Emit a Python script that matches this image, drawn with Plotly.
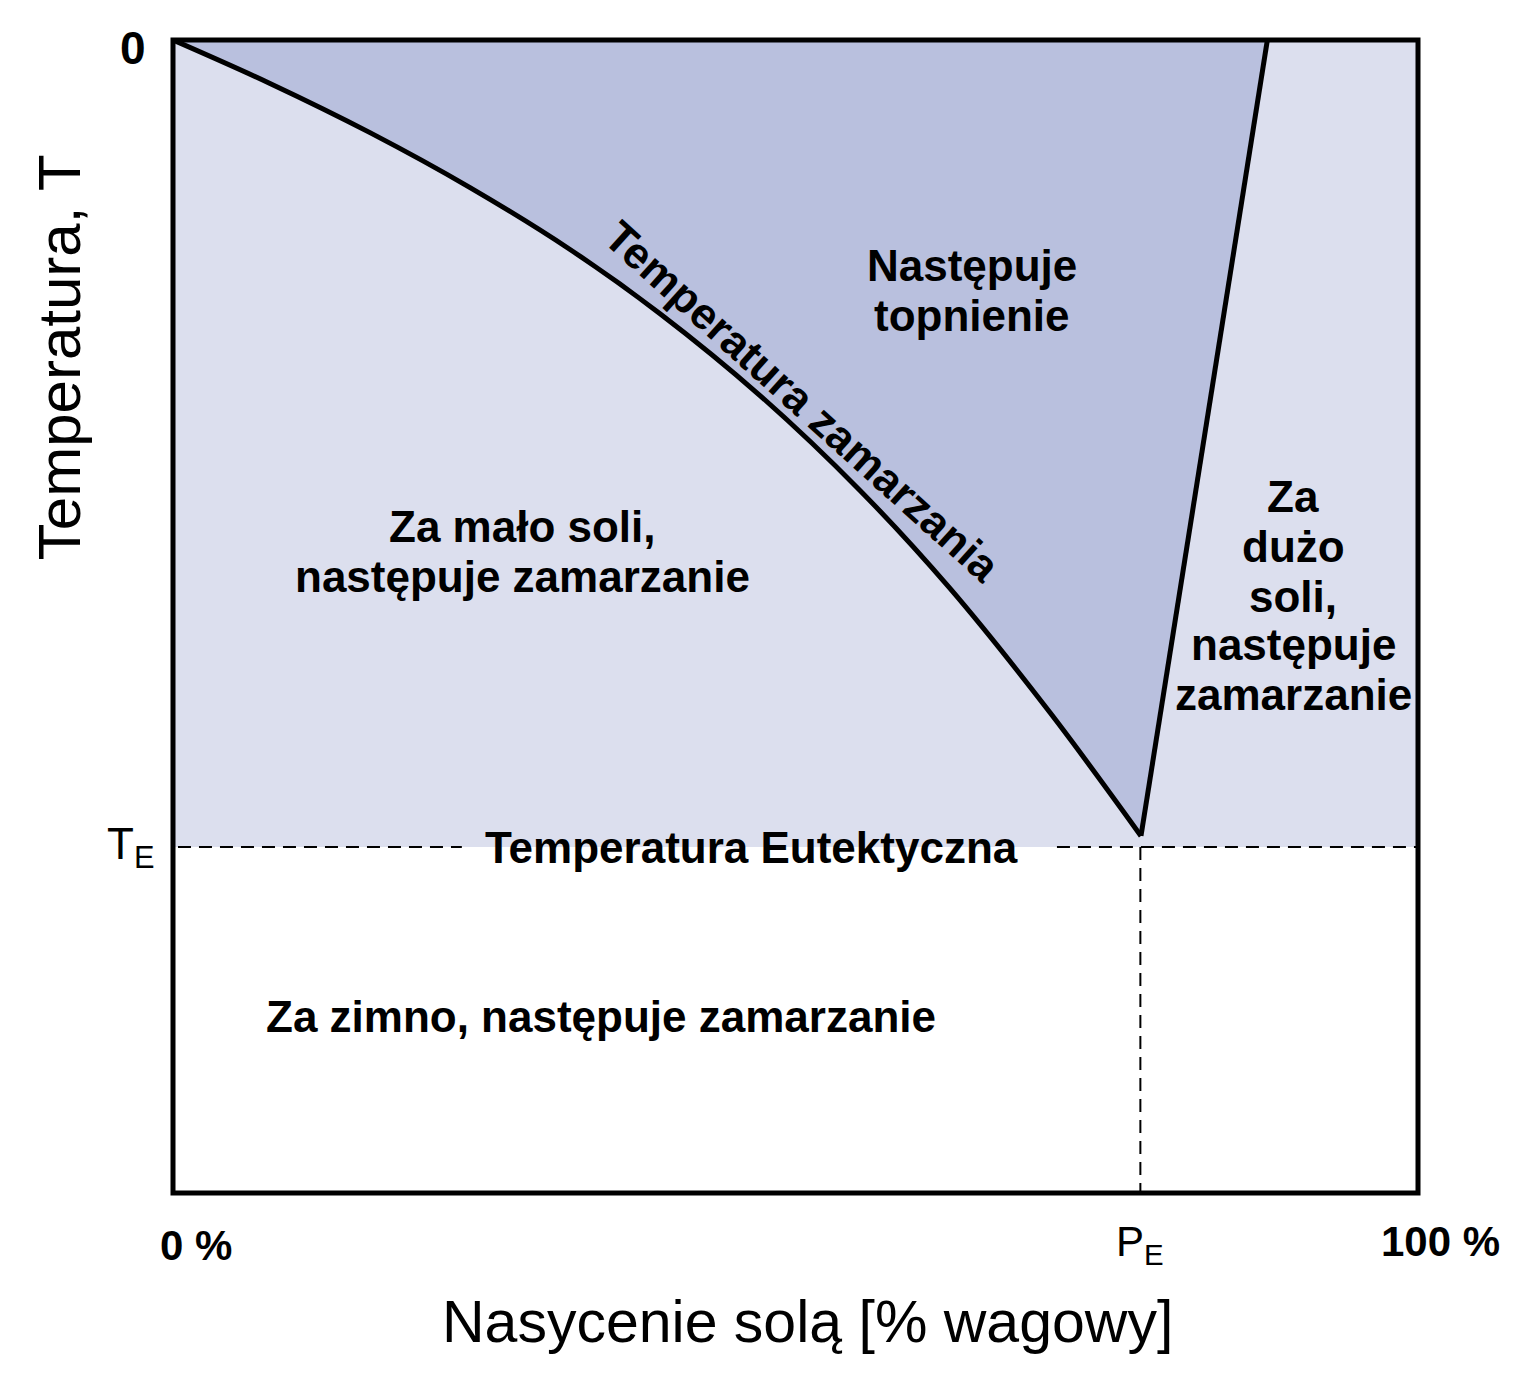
import plotly.graph_objects as go

# ---- data (x: salt saturation %, y: temperature, arbitrary units) ----
T_E = -21.0                # eutectic temperature
P_E = 77.7                 # eutectic composition [%]
T_MIN = -30.0
curve_x = [0.0, 7.79, 15.82, 23.86, 31.89, 39.12, 47.15, 55.18, 62.41, 70.44, 77.75]
curve_T = [0.0, -1.13, -2.41, -3.84, -5.45, -7.12, -9.25, -11.72, -14.27, -17.50, -20.71]
salt_line_x = [77.75, 87.9]
salt_line_T = [-20.71, 0.0]
te_gap = [23.2, 71.0]      # where the eutectic label interrupts the dashed line

LIGHT = "#dcdfee"
DARK = "#b9c0de"
FONT = "Liberation Sans, Arial, sans-serif"

fig = go.Figure()

# light region above eutectic temperature
fig.add_trace(go.Scatter(x=[0, 100, 100, 0, 0], y=[T_E, T_E, 0, 0, T_E],
                         fill="toself", fillcolor=LIGHT, mode="lines",
                         line=dict(width=0), hoverinfo="skip", showlegend=False))
# melting region: freezing curve -> top of salt line -> origin
fig.add_trace(go.Scatter(x=curve_x + [salt_line_x[1], curve_x[0]],
                         y=curve_T + [salt_line_T[1], curve_T[0]],
                         fill="toself", fillcolor=DARK, mode="lines",
                         line=dict(width=0), hoverinfo="skip", showlegend=False))
# freezing curve
fig.add_trace(go.Scatter(x=curve_x, y=curve_T, mode="lines",
                         line=dict(color="black", width=5, shape="spline", smoothing=1),
                         showlegend=False))
# salt-rich line
fig.add_trace(go.Scatter(x=salt_line_x, y=salt_line_T, mode="lines",
                         line=dict(color="black", width=5), showlegend=False))
# eutectic dashed lines
fig.add_trace(go.Scatter(x=[0.4, te_gap[0], None, te_gap[1], 100], y=[T_E, T_E, None, T_E, T_E],
                         mode="lines", line=dict(color="black", width=2, dash="13px,8px"),
                         showlegend=False))
fig.add_trace(go.Scatter(x=[P_E, P_E], y=[T_E, T_MIN], mode="lines",
                         line=dict(color="black", width=2, dash="13px,8px"),
                         showlegend=False))

# frame
fig.add_shape(type="rect", xref="paper", yref="paper", x0=0, x1=1, y0=0, y1=1,
              line=dict(color="black", width=5), layer="above")

bold = dict(family=FONT, size=44, color="black")
labels = [
    ("Następuje", 64.2, -5.88, 0),
    ("topnienie", 64.2, -7.16, 0),
    ("Za mało soli,", 28.1, -12.67, 0),
    ("następuje zamarzanie", 28.1, -13.97, 0),
    ("Za", 89.96, -11.89, 0),
    ("dużo", 89.96, -13.19, 0),
    ("soli,", 89.96, -14.47, 0),
    ("następuje", 89.96, -15.74, 0),
    ("zamarzanie", 89.96, -17.02, 0),
    ("Temperatura Eutektyczna", 46.5, T_E, 0),
    ("Za zimno, następuje zamarzanie", 34.4, -25.42, 0),
    ("Temperatura zamarzania", 50.6, -9.40, 42),
]
for txt, x, y, ang in labels:
    fig.add_annotation(x=x, y=y, xref="x", yref="y", text="<b>" + txt + "</b>",
                       showarrow=False, font=bold, textangle=ang,
                       xanchor="center", yanchor="middle")

def paper_label(text, px, py, size, angle=0):
    fig.add_annotation(x=px, y=py, xref="paper", yref="paper", text=text,
                       showarrow=False, textangle=angle, xanchor="center", yanchor="middle",
                       font=dict(family=FONT, size=size, color="black"))

# tick-like labels
paper_label("<b>0</b>", -0.0321, 0.993, 46)
paper_label("T<sub>E</sub>", -0.0345, 0.300, 44)
paper_label("<b>0 %</b>", 0.0185, -0.0451, 42)
paper_label("P<sub>E</sub>", 0.7767, -0.0450, 42)
paper_label("<b>100 %</b>", 1.0177, -0.0420, 42)

# axis titles
paper_label("Temperatura, T", -0.0915, 0.725, 60, angle=-90)
paper_label("Nasycenie solą [% wagowy]", 0.51, -0.1119, 59)

fig.update_xaxes(range=[0, 100], visible=False, fixedrange=True)
fig.update_yaxes(range=[T_MIN, 0], visible=False, fixedrange=True)
fig.update_layout(width=1503, height=1381, margin=dict(l=165, r=93, t=32, b=196),
                  paper_bgcolor="white", plot_bgcolor="white", showlegend=False)

fig.write_html("out.html")
